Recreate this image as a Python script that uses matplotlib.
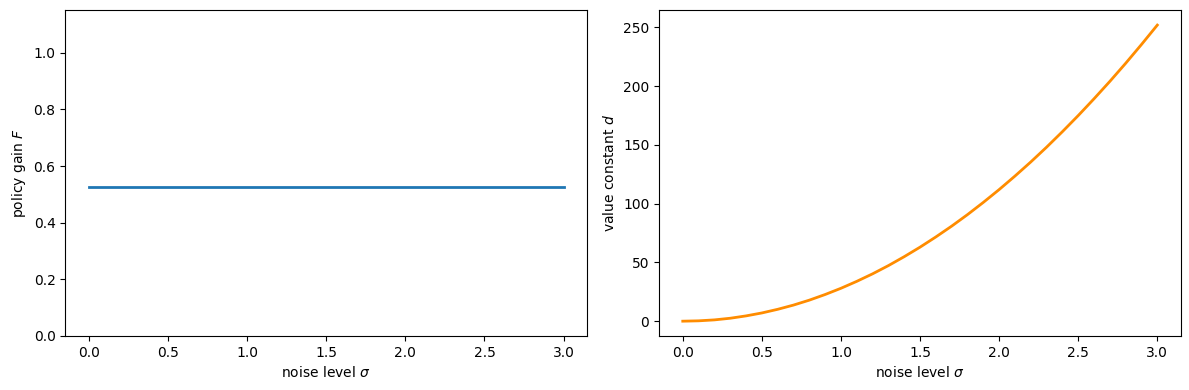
import matplotlib
matplotlib.use("Agg")
import matplotlib.pyplot as plt

# noise levels
sigma = [0.0, 0.1, 0.2, 0.3, 0.4, 0.5, 0.6, 0.7, 0.8, 0.9, 1.0,
         1.1, 1.2, 1.3, 1.4, 1.5, 1.6, 1.7, 1.8, 1.9, 2.0,
         2.1, 2.2, 2.3, 2.4, 2.5, 2.6, 2.7, 2.8, 2.9, 3.0]

# policy gain F stays flat
gain_F = [0.525] * len(sigma)

# value constant d
const_d = [0.0, 0.3, 1.1, 2.5, 4.5, 7.0, 10.1, 13.7, 17.9, 22.7, 28.0,
           33.9, 40.3, 47.3, 54.9, 63.0, 71.7, 80.9, 90.7, 101.1, 112.0,
           123.5, 135.5, 148.1, 161.3, 175.0, 189.3, 204.1, 219.5, 235.5, 252.0]

fig, (ax1, ax2) = plt.subplots(1, 2, figsize=(11.89, 3.9), dpi=100)
fig.subplots_adjust(left=0.0549, right=0.9933, top=0.9736, bottom=0.1385,
                    wspace=0.1375)

ax1.plot(sigma, gain_F, color="tab:blue", lw=2)
ax1.set_ylim(0, 1.15)
ax1.set_xlabel(r"noise level $\sigma$")
ax1.set_ylabel(r"policy gain $F$")

ax2.plot(sigma, const_d, color="darkorange", lw=2)
ax2.set_xlabel(r"noise level $\sigma$")
ax2.set_ylabel(r"value constant $d$")

plt.savefig("out.png")
